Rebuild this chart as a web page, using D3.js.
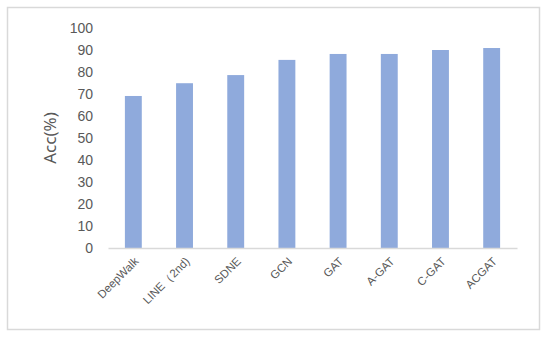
<!DOCTYPE html>
<html>
<head>
<meta charset="utf-8">
<script src="https://cdn.jsdelivr.net/npm/d3@7"></script>
<style>
  body { margin: 0; background: #fff; }
  svg { font-family: "Noto Sans", "DejaVu Sans", sans-serif; }
</style>
</head>
<body>
<svg id="chart"></svg>
<script>
// Data
const methods = ["DeepWalk", "LINE（2nd)", "SDNE", "GCN", "GAT", "A-GAT", "C-GAT", "ACGAT"];
const accuracy = [69.1, 74.9, 78.6, 85.5, 88.2, 88.2, 90.0, 90.9];
const yTicks = [0, 10, 20, 30, 40, 50, 60, 70, 80, 90, 100];

const svg = d3.select("#chart").attr("width", 550).attr("height", 345);

// chart frame
svg.append("rect")
  .attr("x", 7.5).attr("y", 7.5)
  .attr("width", 532).attr("height", 322)
  .attr("fill", "#fff")
  .attr("stroke", "#D9D9D9")
  .attr("stroke-width", 1.5);

const margin = {left: 108, right: 33, top: 28, bottom: 97},
      width = 550 - margin.left - margin.right,
      height = 345 - margin.top - margin.bottom;

const g = svg.append("g").attr("transform", `translate(${margin.left},${margin.top})`);

const x = d3.scaleBand().domain(methods).range([0, width]).paddingInner(0.67).paddingOuter(0.33);
const y = d3.scaleLinear().domain([0, 100]).range([height, 0]);

// bars
g.selectAll(".bar")
  .data(methods)
  .enter()
  .append("rect")
  .attr("class", "bar")
  .attr("x", d => x(d))
  .attr("y", (d, i) => y(accuracy[i]))
  .attr("width", x.bandwidth())
  .attr("height", (d, i) => height - y(accuracy[i]))
  .attr("fill", "#8FAADC");

// y axis (labels only)
const yAxis = g.append("g")
  .call(d3.axisLeft(y).tickValues(yTicks).tickSize(0).tickPadding(15));
yAxis.select(".domain").remove();
yAxis.selectAll("text")
  .style("font-size", "14px")
  .attr("fill", "#595959");

// x axis
const xAxis = g.append("g")
  .attr("transform", `translate(0,${height})`)
  .call(d3.axisBottom(x).tickSize(0).tickPadding(0));
xAxis.select(".domain").attr("stroke", "#D9D9D9").attr("stroke-width", 1.5);
xAxis.selectAll("text")
  .style("font-size", "11.5px")
  .attr("fill", "#595959")
  .attr("dy", null)
  .attr("y", 0)
  .attr("transform", "translate(6,14) rotate(-45)")
  .style("text-anchor", "end");

// y label
svg.append("text")
  .attr("transform", `translate(56,${margin.top + height / 2}) rotate(-90)`)
  .attr("text-anchor", "middle")
  .style("font-size", "17px")
  .attr("fill", "#595959")
  .text("Acc(%)");
</script>
</body>
</html>
